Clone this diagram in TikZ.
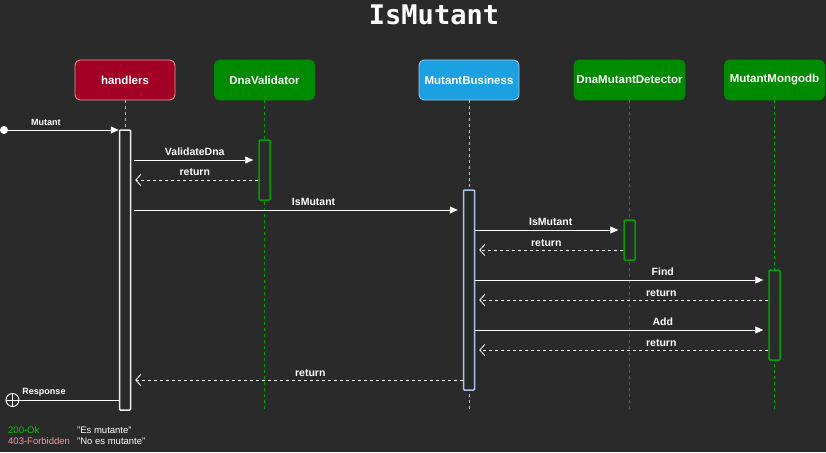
\documentclass[tikz,border=0pt]{standalone}
\usepackage{fontspec}
\setmainfont{Liberation Sans}
\newfontfamily\titlefont{DejaVu Sans Mono}
\usetikzlibrary{arrows.meta}
\definecolor{bg}{HTML}{2A2A2A}
\definecolor{hred}{HTML}{A20025}
\definecolor{hpink}{HTML}{F19C99}
\definecolor{gfill}{HTML}{008A00}
\definecolor{gline}{HTML}{00A000}
\definecolor{bfill}{HTML}{1BA1E2}
\definecolor{bline}{HTML}{A9C4EB}
\definecolor{okgreen}{HTML}{00CC00}
\tikzset{
 pbox/.style={rounded corners=5pt, minimum width=100pt, minimum height=40pt, text=white, font=\bfseries\fontsize{11.5}{13}\selectfont, inner sep=0pt, line width=0.8pt},
 life/.style={dash pattern=on 3pt off 3pt, line width=0.8pt},
 actbar/.style={minimum width=11pt, inner sep=0pt, fill=bg, line width=1.5pt, rounded corners=1pt},
 msg/.style={draw=white, line width=0.9pt, -{Triangle[length=8pt,width=7pt,fill=white]}},
 ret/.style={draw=white, line width=0.8pt, dash pattern=on 3pt off 3pt, -{Straight Barb[length=5pt,width=11pt]}},
 lbl/.style={text=white, font=\bfseries\fontsize{10.5}{12}\selectfont, above, inner sep=1.5pt, yshift=2pt},
 small/.style={text=white, font=\bfseries\fontsize{9}{10}\selectfont, inner sep=0pt},
 legend/.style={font=\fontsize{9.5}{11}\selectfont, inner sep=0pt, anchor=west},
}
\begin{document}
\begin{tikzpicture}[x=1pt,y=-1pt]
\fill[bg] (0,0) rectangle (826,452);
\useasboundingbox (0,0) rectangle (826,452);

% title
\node[text=white, font=\titlefont\bfseries\fontsize{27}{29}\selectfont, inner sep=0pt] (title) at (434,15) {IsMutant};

% participants
\node[pbox, fill=hred, draw=hpink] (h) at (125,80) {handlers};
\node[pbox, fill=gfill, draw=gfill] (v) at (264.5,80) {DnaValidator};
\node[pbox, fill=bfill, draw=bline] (b) at (469,80) {MutantBusiness};
\node[pbox, fill=gfill, draw=gfill, minimum width=111pt] (d) at (629.5,80) {DnaMutantDetector};
\node[pbox, fill=gfill, draw=gfill] (m) at (774.5,80) {MutantMongodb};

% lifeline ends
\coordinate (hE) at (125,410);
\coordinate (vE) at (264.5,410);
\coordinate (bE) at (469,410);
\coordinate (dE) at (629.5,410);
\coordinate (mE) at (774.5,410);
\draw[life, hpink] (h.south) -- (hE);
\draw[life, gline] (v.south) -- (vE);
\draw[life, bline] (b.south) -- (bE);
\draw[life, gline] (d.south) -- (dE);
\draw[life, gline] (m.south) -- (mE);

% activation bars
\node[actbar, draw=white!92!black, minimum height=280pt] (hA) at (125,270) {};
\node[actbar, draw=gline, minimum height=60pt] (vA) at (264.5,170) {};
\node[actbar, draw=bline, minimum height=200pt] (bA) at (469,290) {};
\node[actbar, draw=gline, minimum height=40pt] (dA) at (629.5,240) {};
\node[actbar, draw=gline, minimum height=90pt] (mA) at (774.5,315) {};

% found message
\node[circle, fill=white, minimum size=8pt, inner sep=0pt] (start) at (4,130) {};
\draw[msg] (start) -- (hA.west |- start) node[small, pos=0.34, above=4pt] {Mutant};

% messages
\draw[msg, shorten <=3pt, shorten >=5pt] (hA.east |- 0,160) -- (vA.west |- 0,160) node[lbl, midway] {ValidateDna};
\draw[ret, shorten >=4pt] (vA.west |- 0,180) -- (hA.east |- 0,180) node[lbl, midway] {return};
\draw[msg, shorten <=3pt, shorten >=5pt] (hA.east |- 0,210) -- (bA.west |- 0,210) node[lbl, pos=0.55] {IsMutant};
\draw[msg, shorten >=5pt] (bA.east |- 0,230) -- (dA.west |- 0,230) node[lbl, pos=0.51] {IsMutant};
\draw[ret, shorten >=4pt] (dA.west |- 0,250) -- (bA.east |- 0,250) node[lbl, pos=0.52] {return};
\draw[msg, shorten >=5pt] (bA.east |- 0,280) -- (mA.west |- 0,280) node[lbl, pos=0.64] {Find};
\draw[ret, shorten >=4pt] (mA.west |- 0,300) -- (bA.east |- 0,300) node[lbl, pos=0.365] {return};
\draw[msg, shorten >=5pt] (bA.east |- 0,330) -- (mA.west |- 0,330) node[lbl, pos=0.64] {Add};
\draw[ret, shorten >=4pt] (mA.west |- 0,350) -- (bA.east |- 0,350) node[lbl, pos=0.365] {return};
\draw[ret, shorten >=4pt] (bA.west |- 0,380) -- (hA.east |- 0,380) node[lbl, pos=0.46] {return};

% lost message (response)
\node[circle, draw=white, line width=0.9pt, minimum size=13pt, inner sep=0pt] (endp) at (12.5,400) {};
\draw[white, line width=0.9pt] (endp.north) -- (endp.south) (endp.west) -- (endp.east);
\draw[white, line width=0.9pt] (hA.west |- endp) -- (endp.east);
\node[small, font=\fontsize{9}{10}\selectfont\bfseries] (resp) at (44,392) {Response};

% legend
\node[legend, text=okgreen] (l1) at (8,430) {200-Ok};
\node[legend, text=hpink] (l2) at (8,441) {403-Forbidden};
\node[legend, text=white] (l3) at (77,430) {"Es mutante"};
\node[legend, text=white] (l4) at (77,441) {"No es mutante"};
\end{tikzpicture}
\end{document}
